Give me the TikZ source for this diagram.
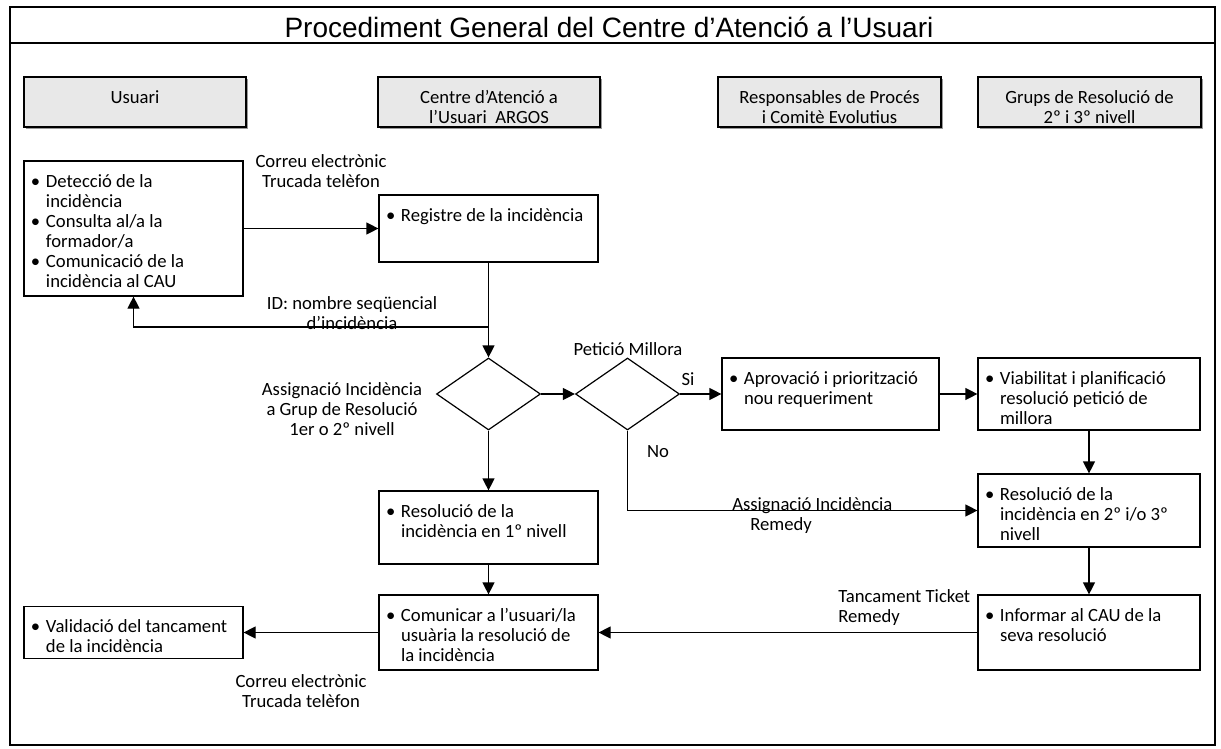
\documentclass[tikz,border=0pt]{standalone}
\usepackage{fontspec}
\setmainfont{Carlito}
\newfontfamily\titlefont{Liberation Sans}
\usepackage{tikz}
\usetikzlibrary{shapes, arrows.meta, positioning, shadows}

\newlength{\pxu}
\setlength{\pxu}{0.75pt}
\newcommand{\bul}{\makebox[15\pxu][l]{\textbullet}}
\newcommand{\ind}{\hspace*{15\pxu}}
\newcommand{\boxtxt}[3]{\parbox[c][#2][t]{#1}{\raggedright\leftskip=7\pxu\relax\vspace*{9pt}\strut#3}}
\newcommand{\headtxt}[3]{\parbox[c][#2][t]{#1}{\centering\vspace*{9pt}\strut#3}}

\begin{document}
\begin{tikzpicture}
  [
    x=0.75pt, y=-0.75pt,
    Box/.style={rectangle, draw=black, line width=0.9pt, inner sep=0pt, fill=white, font=\fontsize{14}{15}\selectfont},
    Head/.style={Box, fill=black!9, drop shadow={shadow xshift=1.2pt, shadow yshift=-1.2pt, opacity=0.8}},
    Choice/.style={diamond, draw=black, line width=0.9pt, inner sep=0pt, minimum width=78pt, minimum height=54pt},
    Note/.style={font=\fontsize{14}{15}\selectfont, align=center, inner sep=0pt},
    Title/.style={font=\titlefont\fontsize{21}{25}\selectfont, inner sep=0pt, anchor=base},
    Arrow/.style={draw, line width=0.9pt, -{Triangle[length=9pt, width=9pt]}}
  ]
  \useasboundingbox (0,0) rectangle (1221,749);
  % Frame
  \draw[line width=1.5pt] (10,7) rectangle (1215,745);
  \draw[line width=1.5pt] (10,43) -- (1215,43);
  \node[Title] (title) at (609,38) {Procediment General del Centre d’Atenció a l’Usuari};
  % Headers
  \node[Head] (hu) at (135,102) {\headtxt{222\pxu}{50\pxu}{Usuari}};
  \node[Head] (hc) at (489,102) {\headtxt{222\pxu}{50\pxu}{Centre d’Atenció a\\l’Usuari~ ARGOS}};
  \node[Head] (hr) at (829.5,102) {\headtxt{223\pxu}{50\pxu}{Responsables de Procés\\i Comitè Evolutius}};
  \node[Head] (hg) at (1089.5,102) {\headtxt{223\pxu}{50\pxu}{Grups de Resolució de\\2º i 3º nivell}};
  % Nodes
  \node[Box] (u1) at (133.5,228.5) {\boxtxt{219\pxu}{135\pxu}{\bul Detecció de la\\\ind incidència\\\bul Consulta al/a la\\\ind formador/a\\\bul Comunicació de la\\\ind incidència al CAU}};
  \node[Box] (c1) at (488.5,228.5) {\boxtxt{219\pxu}{67\pxu}{\bul Registre de la incidència}};
  \node[Choice] (d1) at (488.5,394) {};
  \node[Choice] (d2) at (627.5,394) {};
  \node[Box] (r1) at (830.5,394) {\boxtxt{217\pxu}{72\pxu}{\bul Aprovació i priorització\\\ind nou requeriment}};
  \node[Box] (v1) at (1089,394) {\boxtxt{222\pxu}{72\pxu}{\bul Viabilitat i planificació\\\ind resolució petició de\\\ind millora}};
  \node[Box] (r2) at (1089,510.5) {\boxtxt{222\pxu}{73\pxu}{\bul Resolució de la\\\ind incidència en 2º i/o 3º\\\ind nivell}};
  \node[Box] (res1) at (488.5,527.5) {\boxtxt{219\pxu}{73\pxu}{\bul Resolució de la\\\ind incidència en 1º nivell}};
  \node[Box] (c2) at (488.5,632.5) {\boxtxt{219\pxu}{75\pxu}{\bul Comunicar a l’usuari/la\\\ind usuària la resolució de\\\ind la incidència}};
  \node[Box] (inf) at (1089,632.5) {\boxtxt{222\pxu}{75\pxu}{\bul Informar al CAU de la\\\ind seva resolució}};
  \node[Box] (val) at (133.5,632.5) {\boxtxt{219\pxu}{52\pxu}{\bul Validació del tancament\\\ind de la incidència}};
  % Labels
  \node[Note] (mail1) at (321,171) {Correu electrònic\\Trucada telèfon};
  \node[Note] (idtxt) at (352,313) {ID: nombre seqüencial\\d’incidència};
  \node[Note] (asg1) at (342,409) {Assignació Incidència\\a Grup de Resolució\\1er o 2º nivell};
  \node[Note] (pet) at (628,349) {Petició Millora};
  \node[Note] (si) at (688,379) {Si};
  \node[Note] (no) at (658,452) {No};
  \node[Note, align=left, anchor=west] (asg2) at (732,515.5) {Assignació Incidència\\\hspace*{18\pxu}Remedy};
  \node[Note, align=left, anchor=west] (tick) at (838,608) {Tancament Ticket\\Remedy};
  \node[Note] (mail2) at (301,691.5) {Correu electrònic\\Trucada telèfon};
  % Lines
  \coordinate (idfork) at (488.5,327);
  \path[Arrow] (u1) -- (c1);
  \path[Arrow] (c1) -- (d1);
  \path[Arrow] (idfork) -| (u1);
  \path[Arrow] (d1) -- (d2);
  \path[Arrow] (d2) -- (r1);
  \path[Arrow] (r1) -- (v1);
  \path[Arrow] (v1) -- (r2);
  \path[Arrow] (d2) |- (r2);
  \path[Arrow] (d1) -- (res1);
  \path[Arrow] (res1) -- (c2);
  \path[Arrow] (r2) -- (inf);
  \path[Arrow] (inf) -- (c2);
  \path[Arrow] (c2) -- (val);
\end{tikzpicture}
\end{document}
